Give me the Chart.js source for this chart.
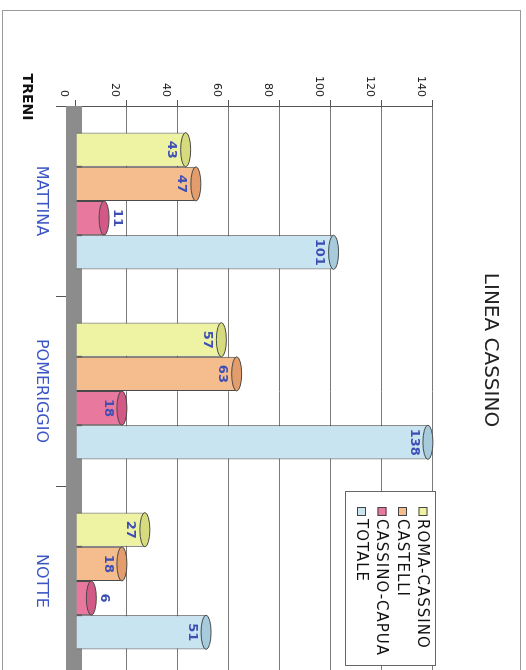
<!DOCTYPE html>
<html>
<head>
<meta charset="utf-8">
<title>Linea Cassino</title>
<script src="https://cdn.jsdelivr.net/npm/chart.js@4.4.1/dist/chart.umd.min.js"></script>
<style>
  html, body { margin: 0; padding: 0; background: #fff; overflow: hidden; width: 526px; height: 670px; }
  /* il foglio originale e' girato di 90 gradi in senso orario */
  #foglio { position: absolute; left: 0; top: 0; width: 690px; height: 526px;
            transform-origin: 0 0; transform: translate(526px, 0) rotate(90deg); }
  #cornice { position: absolute; left: 10px; top: 5px; width: 700px; height: 517px; border: 1px solid #9a9a9a; }
  #grafico { position: absolute; left: 0; top: 0; }
</style>
</head>
<body>
<div id="foglio">
  <div id="cornice"></div>
  <canvas id="grafico" width="690" height="526"></canvas>
</div>
<script>
// dati
const categorie = ['MATTINA', 'POMERIGGIO', 'NOTTE'];
const romaCassino = [43, 57, 27];
const castelli = [47, 63, 18];
const cassinoCapua = [11, 18, 6];
const totale = [101, 138, 51];
const asseMax = 140;
const passo = 20;

const FONT = "'DejaVu Sans', Verdana, sans-serif";
const BLU = '#3d4fb5';

// colori corpo / coperchio dei cilindri
const serie = [
    { label: 'ROMA-CASSINO', data: romaCassino, colore: '#eef3a4', tappo: '#d6dc7e' },
    { label: 'CASTELLI', data: castelli, colore: '#f5bc8e', tappo: '#e39d6c' },
    { label: 'CASSINO-CAPUA', data: cassinoCapua, colore: '#e9789e', tappo: '#d25985' },
    { label: 'TOTALE', data: totale, colore: '#c8e4f0', tappo: '#a6cbdc' }
];

// pavimento grigio sotto le barre
const pavimento = {
    id: 'pavimento',
    beforeDatasetsDraw(chart) {
        const { ctx, chartArea } = chart;
        const y0 = chart.scales.y.getPixelForValue(0);
        ctx.save();
        ctx.fillStyle = '#8c8c8c';
        ctx.fillRect(chartArea.left, y0 - 6, chartArea.right - chartArea.left, 16);
        ctx.restore();
    }
};

// coperchi dei cilindri + etichette dei valori
const cilindri = {
    id: 'cilindri',
    afterDatasetsDraw(chart) {
        const ctx = chart.ctx;
        ctx.save();
        chart.data.datasets.forEach((ds, i) => {
            const meta = chart.getDatasetMeta(i);
            meta.data.forEach((bar, j) => {
                ctx.beginPath();
                ctx.ellipse(bar.x, bar.y, bar.width / 2, 5, 0, 0, Math.PI * 2);
                ctx.fillStyle = serie[i].tappo;
                ctx.fill();
                ctx.lineWidth = 1;
                ctx.strokeStyle = '#4a4a4a';
                ctx.stroke();

                const v = ds.data[j];
                ctx.font = 'bold 13px ' + FONT;
                ctx.fillStyle = BLU;
                ctx.textAlign = 'center';
                ctx.textBaseline = 'middle';
                const y = v >= 15 ? bar.y + 14 : bar.y - 13;
                ctx.fillText(String(v), bar.x, y);
            });
        });
        ctx.restore();
    }
};

// legenda dentro l'area del grafico e titolo dell'asse "TRENI"
const legenda = {
    id: 'legenda',
    afterDraw(chart) {
        const { ctx, chartArea } = chart;
        const x0 = chartArea.right - 185;
        const y0 = chartArea.top - 3;
        ctx.save();
        ctx.fillStyle = '#fff';
        ctx.fillRect(x0, y0, 174, 90);
        ctx.strokeStyle = '#666';
        ctx.lineWidth = 1;
        ctx.strokeRect(x0 + 0.5, y0 + 0.5, 174, 90);
        ctx.font = '15px ' + FONT;
        ctx.letterSpacing = '1px';
        ctx.textBaseline = 'middle';
        chart.data.datasets.forEach((ds, i) => {
            const y = y0 + 13 + i * 20.5;
            ctx.fillStyle = ds.backgroundColor;
            ctx.fillRect(x0 + 16, y - 4.5, 9, 9);
            ctx.strokeStyle = '#444';
            ctx.strokeRect(x0 + 16.5, y - 4, 8, 8);
            ctx.fillStyle = '#111';
            ctx.textAlign = 'left';
            ctx.fillText(ds.label, x0 + 28, y + 1);
        });
        ctx.letterSpacing = '0px';
        ctx.font = 'bold 14px ' + FONT;
        ctx.fillStyle = '#111';
        ctx.textAlign = 'center';
        ctx.fillText('TRENI', chartArea.left - 9, chartArea.bottom + 49);
        ctx.restore();
    }
};

new Chart(document.getElementById('grafico').getContext('2d'), {
    type: 'bar',
    data: {
        labels: categorie,
        datasets: serie.map(s => ({
            label: s.label,
            data: s.data,
            backgroundColor: s.colore,
            borderColor: '#4a4a4a',
            borderWidth: 1,
            barPercentage: 1,
            categoryPercentage: 0.72
        }))
    },
    options: {
        responsive: false,
        animation: false,
        layout: { padding: { top: 24, left: 24, right: 14, bottom: 0 } },
        scales: {
            x: {
                afterFit: s => { s.height = 76; },
                grid: { offset: true, drawOnChartArea: false, tickLength: 20, color: '#555' },
                border: { display: false },
                ticks: { color: '#3b56c4', padding: 5, font: { family: FONT, size: 16 } }
            },
            y: {
                min: 0,
                max: asseMax,
                afterFit: s => { s.width = 82; },
                grid: {
                    color: c => (c.tick && c.tick.value === 0) ? 'rgba(0,0,0,0)' : '#7a7a7a',
                    tickColor: '#555',
                    tickLength: 6
                },
                border: { display: true, color: '#555' },
                ticks: { stepSize: passo, color: '#222', padding: 3, labelOffset: 12, font: { family: FONT, size: 11 } }
            }
        },
        plugins: {
            legend: { display: false },
            tooltip: { enabled: false },
            title: {
                display: true,
                text: 'LINEA CASSINO',
                color: '#222',
                font: { family: FONT, size: 20, weight: 'normal' },
                padding: { top: 0, bottom: 45 }
            }
        }
    },
    plugins: [pavimento, cilindri, legenda]
});
</script>
</body>
</html>
